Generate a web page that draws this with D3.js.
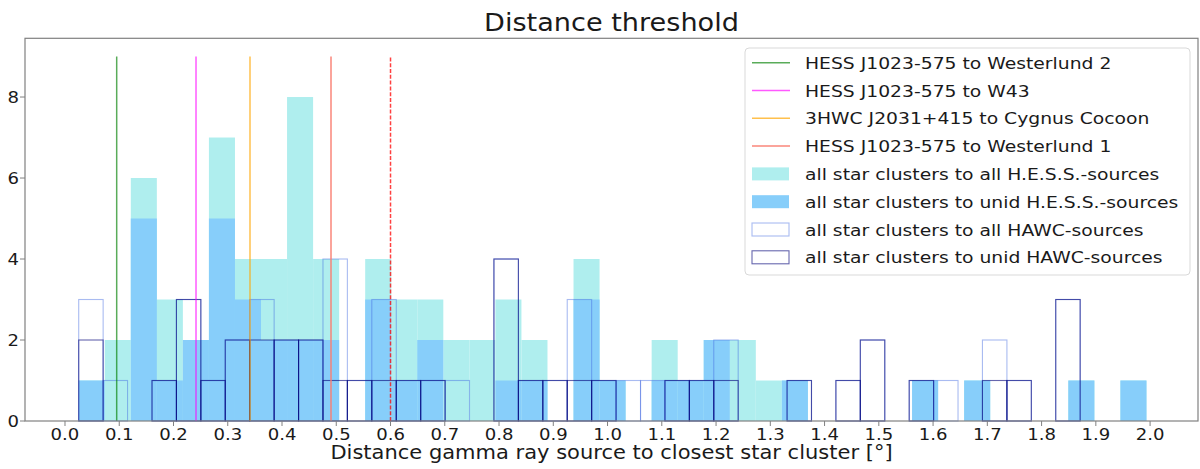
<!DOCTYPE html>
<html>
<head>
<meta charset="utf-8">
<script src="https://cdn.jsdelivr.net/npm/d3@7"></script>
<style>
  body { margin: 0; background: #fff; }
  text { font-family: "DejaVu Sans", sans-serif; fill: #1a1a1a; }
</style>
</head>
<body>
<div id="chart"></div>
<script>
// bin edges (H.E.S.S. and HAWC histograms use different bins)
const hessEdges = [0.0253, 0.0733, 0.1213, 0.1693, 0.2173, 0.2653, 0.3133, 0.3613, 0.4093, 0.4573,
  0.5053, 0.5533, 0.6013, 0.6493, 0.6973, 0.7453, 0.7933, 0.8413, 0.8893, 0.9373,
  0.9853, 1.0333, 1.0813, 1.1293, 1.1773, 1.2253, 1.2733, 1.3213, 1.3693, 1.4173,
  1.4653, 1.5133, 1.5613, 1.6093, 1.6573, 1.7053, 1.7533, 1.8013, 1.8493, 1.8973,
  1.9453, 1.9933];
const hawcEdges = [0.0253, 0.0703, 0.1153, 0.1604, 0.2054, 0.2504, 0.2954, 0.3404, 0.3855, 0.4305,
  0.4755, 0.5205, 0.5655, 0.6106, 0.6556, 0.7006, 0.7456, 0.7906, 0.8357, 0.8807,
  0.9257, 0.9707, 1.0157, 1.0608, 1.1058, 1.1508, 1.1958, 1.2408, 1.2859, 1.3309,
  1.3759, 1.4209, 1.4659, 1.5110, 1.5560, 1.6010, 1.6460, 1.6910, 1.7361, 1.7811,
  1.8261, 1.8711];

// counts per bin
const hessAll  = [1,2,6,3,2,7,4,4,8,4, 0,4,3,3,2,2,3,2,0,4, 1,0,2,1,2,2,1,1,0,0, 0,0,1,0,1,0,0,0,1,0, 1];
const hessUnid = [1,0,5,1,2,5,3,2,2,2, 0,3,1,2,0,0,1,1,0,3, 1,0,1,1,2,0,0,1,0,0, 0,0,1,0,1,0,0,0,1,0, 1];
const hawcAll  = [3,1,0,1,3,1,2,3,2,2, 4,1,3,1,1,1,0,4,1,1, 3,1,1,1,1,1,2,0,0,1, 0,1,2,0,1,1,0,2,1,0, 3];
const hawcUnid = [2,0,0,1,3,1,2,2,2,2, 1,1,1,1,1,0,0,4,1,1, 1,1,0,0,1,1,1,0,0,1, 0,1,2,0,1,0,0,1,1,0, 3];

// reference distances
const refLabels = ["HESS J1023-575 to Westerlund 2", "HESS J1023-575 to W43",
  "3HWC J2031+415 to Cygnus Cocoon", "HESS J1023-575 to Westerlund 1"];
const refValues = [0.0953, 0.2415, 0.341, 0.4903];
const refColors = ["rgba(0,128,0,0.65)", "rgba(255,0,255,0.65)", "rgba(255,165,0,0.7)", "rgba(250,128,114,0.95)"];
const threshold = 0.6;

const histLabels = ["all star clusters to all H.E.S.S.-sources", "all star clusters to unid H.E.S.S.-sources",
  "all star clusters to all HAWC-sources", "all star clusters to unid HAWC-sources"];

const xTicks = d3.range(0, 21).map(i => i / 10);
const yTicks = [0, 2, 4, 6, 8];

// layout
const W = 1200, H = 469, SX = 1.13;
const x = d3.scaleLinear().domain([-0.0737, 2.0883]).range([25, 1198]);
const y = d3.scaleLinear().domain([0, 9.45]).range([421, 38.3]);

const svg = d3.select('#chart').append('svg')
  .attr('width', W).attr('height', H);

// text is horizontally stretched in the reference
function stext(sel, px, py, str, size, anchor) {
  return sel.append('text')
    .attr('transform', 'translate(' + px + ',' + py + ') scale(' + SX + ',1)')
    .attr('font-size', size)
    .attr('text-anchor', anchor || 'start')
    .text(str);
}

function bins(edges, counts) {
  return counts.map((c, i) => ({x0: edges[i], x1: edges[i + 1], c: c})).filter(d => d.c > 0);
}

const plot = svg.append('g');

// filled histograms
plot.selectAll('.hall').data(bins(hessEdges, hessAll)).enter().append('rect')
  .attr('x', d => x(d.x0)).attr('width', d => x(d.x1) - x(d.x0))
  .attr('y', d => y(d.c)).attr('height', d => y(0) - y(d.c))
  .attr('fill', 'paleturquoise');
plot.selectAll('.hunid').data(bins(hessEdges, hessUnid)).enter().append('rect')
  .attr('x', d => x(d.x0)).attr('width', d => x(d.x1) - x(d.x0))
  .attr('y', d => y(d.c)).attr('height', d => y(0) - y(d.c))
  .attr('fill', 'lightskyblue');

// outline histograms
plot.selectAll('.wall').data(bins(hawcEdges, hawcAll)).enter().append('rect')
  .attr('x', d => x(d.x0)).attr('width', d => x(d.x1) - x(d.x0))
  .attr('y', d => y(d.c)).attr('height', d => y(0) - y(d.c))
  .attr('fill', 'none').attr('stroke', 'rgba(65,105,225,0.45)').attr('stroke-width', 1.1);
plot.selectAll('.wunid').data(bins(hawcEdges, hawcUnid)).enter().append('rect')
  .attr('x', d => x(d.x0)).attr('width', d => x(d.x1) - x(d.x0))
  .attr('y', d => y(d.c)).attr('height', d => y(0) - y(d.c))
  .attr('fill', 'none').attr('stroke', 'rgba(0,0,120,0.6)').attr('stroke-width', 1.1);

// reference lines
refValues.forEach((v, i) => {
  plot.append('line')
    .attr('x1', x(v)).attr('x2', x(v)).attr('y1', y(0)).attr('y2', y(9))
    .attr('stroke', refColors[i]).attr('stroke-width', 1.5);
});
plot.append('line')
  .attr('x1', x(threshold)).attr('x2', x(threshold)).attr('y1', y(0)).attr('y2', y(9))
  .attr('stroke', 'rgba(255,0,0,0.75)').attr('stroke-width', 1.5)
  .attr('stroke-dasharray', '4,1.8');

// frame
svg.append('rect')
  .attr('x', x.range()[0]).attr('y', y.range()[1])
  .attr('width', x.range()[1] - x.range()[0]).attr('height', y.range()[0] - y.range()[1])
  .attr('fill', 'none').attr('stroke', '#808080').attr('stroke-width', 1.2);

// x ticks
xTicks.forEach(t => {
  svg.append('line').attr('x1', x(t)).attr('x2', x(t)).attr('y1', y(0)).attr('y2', y(0) + 5)
    .attr('stroke', '#808080').attr('stroke-width', 1);
  stext(svg, x(t), 439.5, d3.format('.1f')(t), 16, 'middle');
});
// y ticks
yTicks.forEach(t => {
  svg.append('line').attr('x1', 20).attr('x2', 25).attr('y1', y(t)).attr('y2', y(t))
    .attr('stroke', '#808080').attr('stroke-width', 1);
  stext(svg, 19, y(t) + 5.8, String(t), 16, 'end');
});

// labels
const cx = (x.range()[0] + x.range()[1]) / 2;
stext(svg, cx, 31, 'Distance threshold', 24, 'middle');
stext(svg, cx, 459, 'Distance gamma ray source to closest star cluster [°]', 18.6, 'middle');

// legend
const leg = svg.append('g');
leg.append('rect')
  .attr('x', 745).attr('y', 48).attr('width', 445).attr('height', 227).attr('rx', 4)
  .attr('fill', 'rgba(255,255,255,0.85)').attr('stroke', '#d9d9d9');
const rowY = i => 62.7 + i * 27.8;
refLabels.forEach((lab, i) => {
  leg.append('line').attr('x1', 752).attr('x2', 790).attr('y1', rowY(i)).attr('y2', rowY(i))
    .attr('stroke', refColors[i]).attr('stroke-width', 1.5);
  stext(leg, 805, rowY(i) + 6, lab, 16.6, 'start');
});
const patchFill = ['paleturquoise', 'lightskyblue', '#fff', '#fff'];
const patchStroke = ['none', 'none', 'rgba(65,105,225,0.45)', 'rgba(0,0,120,0.6)'];
histLabels.forEach((lab, j) => {
  const i = j + 4;
  leg.append('rect').attr('x', 752).attr('y', rowY(i) - 6.5).attr('width', 37).attr('height', 13)
    .attr('fill', patchFill[j]).attr('stroke', patchStroke[j]).attr('stroke-width', 1.1);
  stext(leg, 805, rowY(i) + 6, lab, 16.6, 'start');
});
</script>
</body>
</html>
